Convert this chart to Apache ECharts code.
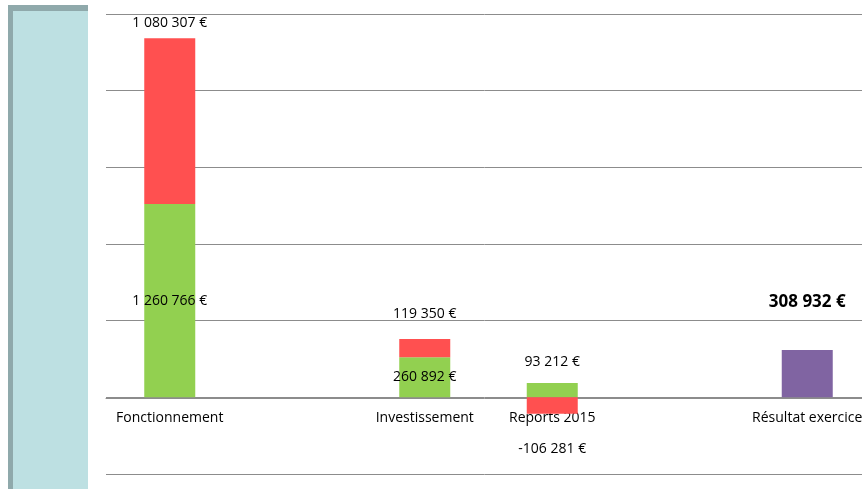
<!DOCTYPE html>
<html>
<head>
<meta charset="utf-8">
<style>
    html, body { margin: 0; padding: 0; background: #fff; }
    #main { width: 862px; height: 489px; }
</style>
<script src="https://cdn.jsdelivr.net/npm/echarts@6/dist/echarts.min.js"></script>
</head>
<body>
<div id="main"></div>
<script>
//catégories (deux colonnes vides)
var categories = ['Fonctionnement', '', 'Investissement', 'Reports 2015', '', 'Résultat exercice'];
//recettes (vert)
var recettes = [1260766, '-', 260892, 93212, '-', '-'];
//dépenses (rouge)
var depenses = [1080307, '-', 119350, -106281, '-', '-'];
//résultat (violet)
var resultat = ['-', '-', '-', '-', '-', 308932];
//position des étiquettes
var posRecettes = ['inside', '', 'inside', 'top', '', ''];
var posDepenses = ['top', '', 'top', 'bottom', '', ''];
var distRecettes = [0, 0, 0, 14, 0, 0];
var distDepenses = [8, 0, 18, 28, 0, 0];

//format 1 260 766 €
function euro(v) {
    var s = String(Math.abs(v)).replace(/\B(?=(\d{3})+(?!\d))/g, ' ');
    return (v < 0 ? '-' : '') + s + ' €';
}

//construire les données avec les étiquettes
function buildData(values, pos, dist) {
    var result = new Array();
    for (var i = 0; i < values.length; i++) {
        if (values[i] === '-') {
            result.push('-');
            continue;
        }
        result.push({
            value: values[i],
            label: {
                show: true,
                position: pos[i],
                distance: dist[i]
            }
        });
    }
    return result;
}

var myChart = echarts.init(document.getElementById('main'));
var labelStyle = {
    color: '#000',
    fontSize: 14,
    fontFamily: 'Open Sans',
    formatter: function(p) { return euro(p.value); }
};
var option = {
    animation: false,
    backgroundColor: '#fff',
    graphic: [{
        type: 'rect',
        shape: { x: 8, y: 5, width: 80, height: 490 },
        style: { fill: '#8fa9ab' }
    }, {
        type: 'rect',
        shape: { x: 13, y: 11, width: 75, height: 480 },
        style: { fill: '#bde0e2' }
    }],
    grid: {
        left: 106,
        top: 14,
        width: 765,
        height: 460,
        containLabel: false,
        outerBoundsMode: 'none'
    },
    xAxis: {
        type: 'category',
        data: categories,
        //axe placé sur le zéro (une graduation plus haut que le bas)
        offset: -76,
        axisLine: { onZero: false, lineStyle: { color: '#8c8c8c' } },
        axisTick: { length: 5, lineStyle: { color: '#8c8c8c' } },
        axisLabel: {
            color: '#000',
            fontSize: 14,
            fontFamily: 'Open Sans',
            margin: 13,
            interval: 0
        }
    },
    yAxis: {
        type: 'value',
        min: -500000,
        max: 2500000,
        interval: 500000,
        axisLine: { show: false },
        axisTick: { show: false },
        axisLabel: { show: false },
        splitLine: { lineStyle: { color: '#8c8c8c' } }
    },
    series: [{
        name: 'Recettes',
        type: 'bar',
        stack: 'a',
        barWidth: 51,
        itemStyle: { color: '#92d050' },
        label: labelStyle,
        data: buildData(recettes, posRecettes, distRecettes)
    }, {
        name: 'Dépenses',
        type: 'bar',
        stack: 'a',
        itemStyle: { color: '#ff5050' },
        label: labelStyle,
        data: buildData(depenses, posDepenses, distDepenses)
    }, {
        name: 'Résultat',
        type: 'bar',
        stack: 'a',
        itemStyle: { color: '#8064a2' },
        label: {
            show: true,
            position: 'top',
            distance: 39,
            color: '#000',
            fontSize: 17,
            fontWeight: 'bold',
            fontFamily: 'Open Sans',
            formatter: function(p) { return euro(p.value); }
        },
        data: resultat
    }]
};
myChart.setOption(option);
</script>
</body>
</html>
